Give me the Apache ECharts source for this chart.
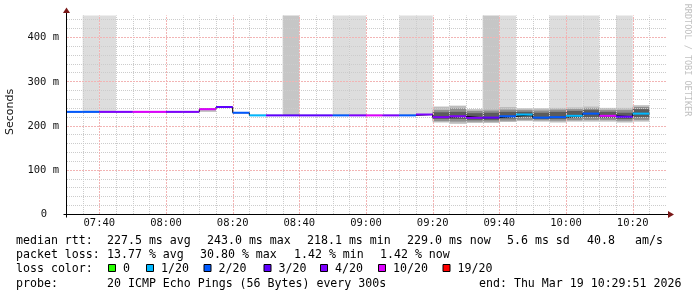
<!DOCTYPE html>
<html><head><meta charset="utf-8">
<script src="https://cdn.jsdelivr.net/npm/echarts@6/dist/echarts.min.js"></script>
<style>html,body{margin:0;padding:0;background:#fff}#c{width:697px;height:297px}</style>
</head><body><div id="c"></div>
<script>
// ---- data ----
const binStart = ['07:30','07:35','07:40','07:45','07:50','07:55','08:00','08:05','08:10','08:15','08:20','08:25','08:30','08:35','08:40','08:45','08:50','08:55','09:00','09:05','09:10','09:15','09:20','09:25','09:30','09:35','09:40','09:45','09:50','09:55','10:00','10:05','10:10','10:15','10:20'];
const median = [232,232,232,232,232,232,232,232,238,243,230,224,224,224,224,224,224,224,224,224,224,226,220,222,218.5,219,222,226,219,220,223,228,223,221,228];
const loss = ['2/20','2/20','4/20','4/20','10/20','10/20','4/20','4/20','10/20','3/20','2/20','1/20','3/20','3/20','3/20','3/20','2/20','4/20','10/20','4/20','2/20','4/20','4/20','4/20','4/20','3/20','2/20','1/20','2/20','2/20','1/20','2/20','10/20','3/20','1/20'];
// tall smoke band above the median: 0 none, 1 light, 2 darker
const band = [0,1,1,0,0,0,0,0,0,0,0,0,0,2,0,0,1,1,0,0,1,1,0,0,0,2,1,0,0,1,1,1,0,1,0];
const smokeOuterLo = [null,null,null,null,null,null,null,null,232,null,null,null,null,null,null,null,null,null,null,null,null,null,208,205,207,207,209,211,210,208,210,210,210,208,210];
const smokeMidLo   = [null,null,null,null,null,null,null,null,null,null,null,null,null,null,null,null,null,null,null,null,null,null,211,210,210,210,212,214,213,212,213,214,214,212,214];
const smokeInnerLo = [null,null,null,null,null,null,null,null,null,null,null,null,null,null,null,null,null,null,null,null,null,null,216,216,214,214,217,220,216,216,218,220,218,216,220];
const smokeInnerHi = [null,null,null,null,null,null,null,null,null,null,null,null,null,null,null,null,null,null,null,null,null,null,231,232,229,230,232,232,230,232,234,236,232,230,238];
const smokeMidHi   = [null,null,null,null,null,null,null,null,null,null,null,null,null,null,null,null,null,null,null,null,null,null,236,240,234,235,237,236,235,237,238,240,236,236,243];
const smokeOuterHi = [null,null,null,null,null,null,null,null,238,null,null,null,null,null,null,null,null,null,null,null,null,null,244,246,238,240,243,240,240,241,242,244,241,241,247];
const lossLabels = ['0','1/20','2/20','3/20','4/20','10/20','19/20'];
const lossColors = ['#26ff00','#00b8ff','#0059ff','#5e00ff','#7e00ff','#dd00ff','#ff0000'];
const xMajorTicks = ['07:40','08:00','08:20','08:40','09:00','09:20','09:40','10:00','10:20'];
const yMajorTicks = [0,100,200,300,400];
const xRange = ['07:30','10:30'];
const yMax = 450;
const binMinutes = 5;
const yMinorStep = 20;

// ---- helpers ----
const toMin = s => { const p = s.split(':'); return (+p[0]) * 60 + (+p[1]); };
const X_MIN = toMin(xRange[0]), X_MAX = toMin(xRange[1]);
const majorMins = xMajorTicks.map(toMin);
const colorOf = l => lossColors[lossLabels.indexOf(l)];
const bandColors = ['#dddddd', '#c6c6c6'];
const MONO = "'DejaVu Sans Mono', monospace";
const MINOR = '#cccccc', MAJOR = '#f2b4b4';

// grid line positions (axis values)
const xMinor = [], xMajor = [], yMinor = [], yMajor = [];
for (let v = X_MIN + binMinutes; v < X_MAX; v += binMinutes) (majorMins.indexOf(v) >= 0 ? xMajor : xMinor).push([v, 0]);
for (let v = yMinorStep; v < yMax; v += yMinorStep) (yMajorTicks.indexOf(v) >= 0 ? yMajor : yMinor).push([X_MIN, v]);

const bandData = [], smokeData = [], segData = [], stepData = [];
binStart.forEach((s, i) => {
  const t = toMin(s);
  if (band[i]) bandData.push([t, median[i], band[i]]);
  if (smokeOuterLo[i] != null) smokeData.push([t, median[i], i]);
  segData.push([t, median[i], i]);
  stepData.push([t, median[i]]);
});
stepData.push([toMin(binStart[binStart.length - 1]) + binMinutes, median[median.length - 1]]);

const chart = echarts.init(document.getElementById('c'), null, {renderer: 'canvas', width: 697, height: 297});

function rectBetween(api, t, lo, hi, fill) {
  const a = api.coord([t, lo]);
  const b = api.coord([t + binMinutes, hi]);
  return {type: 'rect', shape: {x: a[0], y: b[1], width: b[0] - a[0], height: a[1] - b[1]}, style: {fill: fill}};
}
function vGrid(color, dash, z) {
  return {
    type: 'custom', z: z, silent: true, encode: {x: 0, y: 1},
    renderItem: (p, api) => {
      const v = api.value(0);
      const a = api.coord([v, 0]), b = api.coord([v, yMax]);
      const x = Math.round(a[0]) + 0.5;
      return {type: 'line', shape: {x1: x, y1: a[1] - 0.5, x2: x, y2: b[1]},
        style: {stroke: color, lineWidth: 1, lineDash: dash}};
    }
  };
}
function hGrid(color, dash, z) {
  return {
    type: 'custom', z: z, silent: true, encode: {x: 0, y: 1},
    renderItem: (p, api) => {
      const v = api.value(1);
      const a = api.coord([X_MIN, v]), b = api.coord([X_MAX, v]);
      const y = Math.floor(a[1]) + 0.5;
      return {type: 'line', shape: {x1: a[0] + 1, y1: y, x2: b[0] + 1, y2: y},
        style: {stroke: color, lineWidth: 1, lineDash: dash}};
    }
  };
}

const option = {
  animation: false,
  backgroundColor: '#ffffff',
  grid: {left: 66, top: 15.4, width: 600, height: 199.1, containLabel: false},
  xAxis: {
    type: 'value', min: X_MIN, max: X_MAX, interval: binMinutes, z: 6,
    axisLine: {show: true, lineStyle: {color: '#000', width: 1}},
    axisTick: {show: false},
    axisLabel: {
      fontFamily: MONO, fontSize: 10.5, color: '#111', margin: 3,
      formatter: v => { const k = majorMins.indexOf(v); return k >= 0 ? xMajorTicks[k] : ''; }
    },
    splitLine: {show: false}
  },
  yAxis: {
    type: 'value', min: 0, max: yMax, interval: yMinorStep, z: 6,
    axisLine: {show: true, lineStyle: {color: '#000', width: 1}},
    axisTick: {show: false},
    axisLabel: {
      fontFamily: MONO, fontSize: 10.5, color: '#111', margin: 7,
      formatter: v => yMajorTicks.indexOf(v) < 0 ? '' : (v === 0 ? '{z|0}' : v + ' m'),
      rich: {z: {fontFamily: MONO, fontSize: 10.5, color: '#111', padding: [0, 12, 0, 0]}}
    },
    splitLine: {show: false}
  },
  series: [
    {
      type: 'custom', z: 1, silent: true, data: bandData, encode: {x: 0, y: 1},
      renderItem: (p, api) => rectBetween(api, api.value(0), api.value(1), yMax, bandColors[api.value(2) - 1])
    },
    {
      type: 'custom', z: 2, silent: true, data: smokeData, encode: {x: 0, y: 1},
      renderItem: (p, api) => {
        const t = api.value(0), i = api.value(2);
        const ch = [rectBetween(api, t, smokeOuterLo[i], smokeOuterHi[i], '#bdbdbd')];
        if (smokeMidLo[i] != null) ch.push(rectBetween(api, t, smokeMidLo[i], smokeMidHi[i], '#8e8e8e'));
        if (smokeInnerLo[i] != null) ch.push(rectBetween(api, t, smokeInnerLo[i], smokeInnerHi[i], '#5c5c5c'));
        return {type: 'group', children: ch};
      }
    },
    Object.assign(vGrid(MINOR, [1, 1], 3), {data: xMinor}),
    Object.assign(hGrid(MINOR, [1, 1], 3), {data: yMinor}),
    Object.assign(vGrid(MAJOR, [2, 1], 3.5), {data: xMajor}),
    Object.assign(hGrid(MAJOR, [2, 1], 3.5), {data: yMajor}),
    {
      type: 'line', z: 4, silent: true, step: 'end', data: stepData, showSymbol: false, symbol: 'none',
      lineStyle: {color: '#000', width: 1}
    },
    {
      type: 'custom', z: 5, silent: true, data: segData, encode: {x: 0, y: 1},
      renderItem: (p, api) => {
        const t = api.value(0), m = api.value(1), i = api.value(2);
        const a = api.coord([t, m]), b = api.coord([t + binMinutes, m]);
        return {type: 'line', shape: {x1: a[0], y1: a[1], x2: b[0], y2: b[1]}, style: {stroke: colorOf(loss[i]), lineWidth: 2}};
      }
    }
  ]
};
chart.setOption(option);

// ---- decorations: arrows, texts, legend ----
const o = chart.convertToPixel({gridIndex: 0}, [X_MIN, 0]);
const tp = chart.convertToPixel({gridIndex: 0}, [X_MIN, yMax]);
const rt = chart.convertToPixel({gridIndex: 0}, [X_MAX, 0]);
const ax = Math.round(o[0]) + 0.5, ay = Math.floor(o[1]) + 0.5;
const ARROW = '#7a1818';
const g = [];
g.push({type: 'line', shape: {x1: ax, y1: tp[1], x2: ax, y2: tp[1] - 3}, style: {stroke: '#000', lineWidth: 1}, z: 10});
g.push({type: 'line', shape: {x1: ax, y1: ay, x2: ax, y2: ay + 3}, style: {stroke: '#000', lineWidth: 1}, z: 10});
g.push({type: 'line', shape: {x1: ax - 3, y1: ay, x2: ax, y2: ay}, style: {stroke: '#000', lineWidth: 1}, z: 10});
g.push({type: 'line', shape: {x1: rt[0], y1: ay, x2: rt[0] + 2, y2: ay}, style: {stroke: '#000', lineWidth: 1}, z: 10});
g.push({type: 'polygon', shape: {points: [[ax - 3.5, tp[1] - 2.5], [ax + 3.5, tp[1] - 2.5], [ax, tp[1] - 8]]}, style: {fill: ARROW}, z: 10});
g.push({type: 'polygon', shape: {points: [[rt[0] + 2, ay - 3.5], [rt[0] + 2, ay + 3.5], [rt[0] + 8, ay]]}, style: {fill: ARROW}, z: 10});

function txt(x, y, s, opt) {
  g.push(Object.assign({type: 'text', x: x, y: y, z: 10, silent: true,
    style: Object.assign({text: s, fill: '#000', font: '11.6px ' + MONO, align: 'left', verticalAlign: 'middle'}, opt || {})}));
}
// axis title and watermark
g.push({type: 'text', x: 10.5, y: 112, rotation: Math.PI / 2, z: 10,
  style: {text: 'Seconds', fill: '#111', font: "11px 'DejaVu Sans', sans-serif", align: 'center', verticalAlign: 'middle'}});
g.push({type: 'text', x: 687, y: 60, rotation: -Math.PI / 2, z: 10,
  style: {text: 'RRDTOOL / TOBI OETIKER', fill: '#c0c0c0', font: '8.5px ' + MONO, align: 'center', verticalAlign: 'middle'}});

const statsRtt = ['median rtt:', '227.5 ms avg', '243.0 ms max', '218.1 ms min', '229.0 ms now', '5.6 ms sd', '40.8', 'am/s'];
const statsRttX = [16, 107, 207, 307, 407, 507, 587, 635];
statsRtt.forEach((s, k) => txt(statsRttX[k], 240.5, s));
const statsLoss = ['packet loss:', '13.77 % avg', '30.80 % max', '1.42 % min', '1.42 % now'];
const statsLossX = [16, 107, 200, 294, 380];
statsLoss.forEach((s, k) => txt(statsLossX[k], 255, s));
txt(16, 269, 'loss color:');
const legendBoxX = [108, 146, 203.5, 263.5, 320, 378, 442.5];
lossLabels.forEach((l, k) => {
  g.push({type: 'rect', z: 10, shape: {x: legendBoxX[k] + 0.5, y: 264.5, width: 7, height: 7},
    style: {fill: lossColors[k], stroke: '#000', lineWidth: 1}});
  txt(legendBoxX[k] + 15, 269, l);
});
txt(16, 283.5, 'probe:');
txt(107, 283.5, '20 ICMP Echo Pings (56 Bytes) every 300s');
txt(479, 283.5, 'end: Thu Mar 19 10:29:51 2026');

chart.setOption({graphic: {elements: g}});
</script>
</body></html>
